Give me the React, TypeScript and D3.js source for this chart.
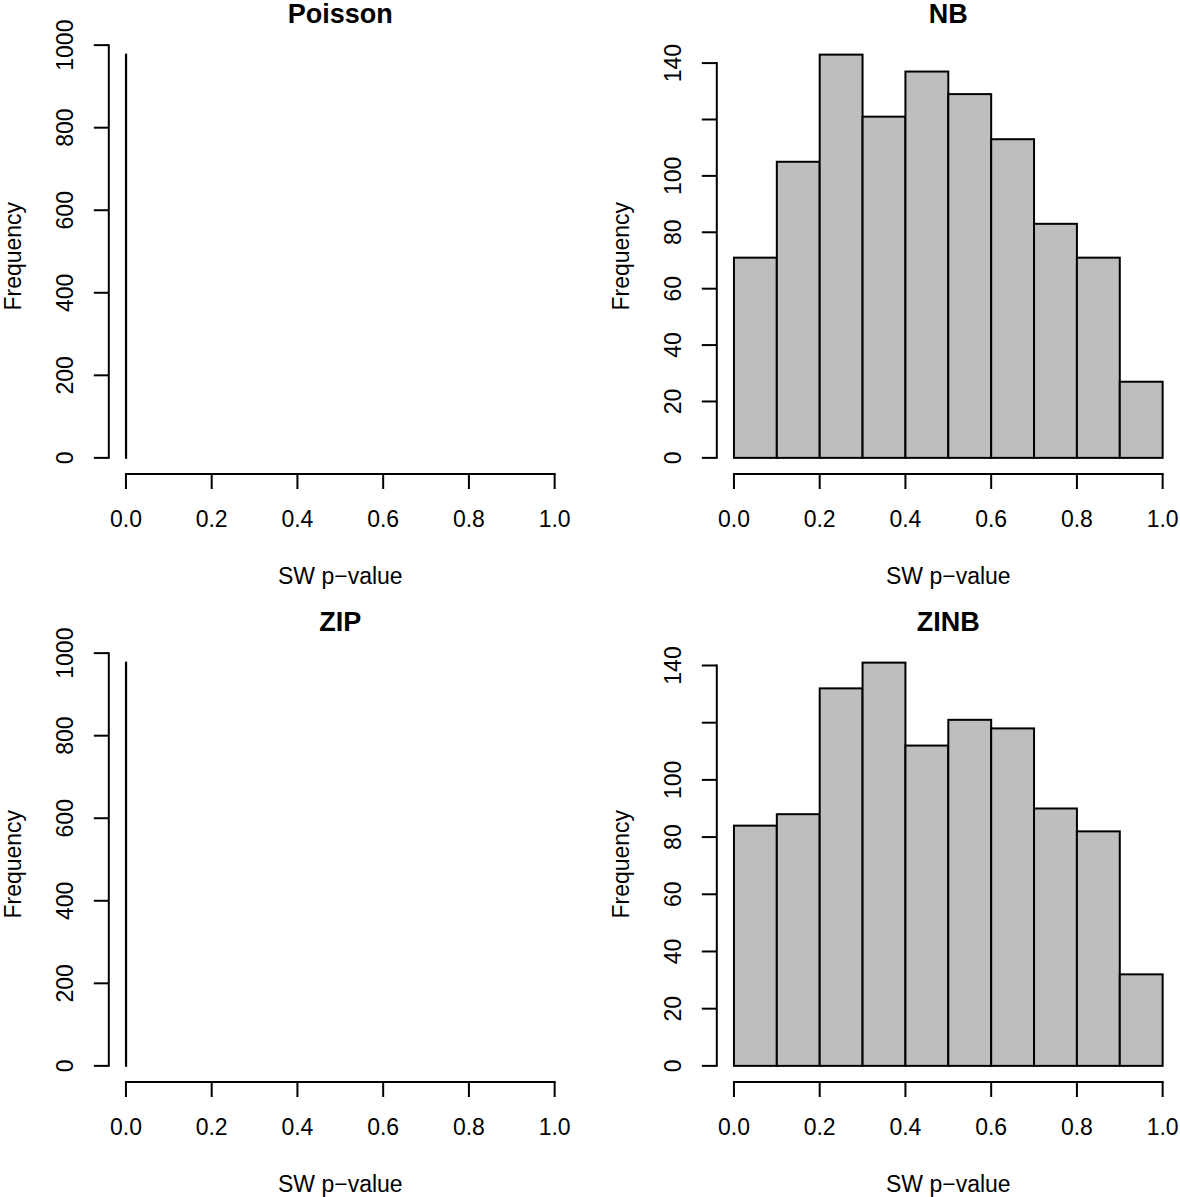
import React from "react";
import * as d3 from "d3";

// histogram data (bin edges + counts)
const PANEL_TITLES = ["Poisson", "NB", "ZIP", "ZINB"];

const POISSON_BREAKS = [0, 0.0005];
const POISSON_COUNTS = [977];

const NB_BREAKS = [0, 0.1, 0.2, 0.3, 0.4, 0.5, 0.6, 0.7, 0.8, 0.9, 1.0];
const NB_COUNTS = [71, 105, 143, 121, 137, 129, 113, 83, 71, 27];

const ZIP_BREAKS = [0, 0.0005];
const ZIP_COUNTS = [977];

const ZINB_BREAKS = [0, 0.1, 0.2, 0.3, 0.4, 0.5, 0.6, 0.7, 0.8, 0.9, 1.0];
const ZINB_COUNTS = [84, 88, 132, 141, 112, 121, 118, 90, 82, 32];

const X_TICKS = [0, 0.2, 0.4, 0.6, 0.8, 1.0];
const Y_TICKS_BIG = [0, 200, 400, 600, 800, 1000];
const Y_TICKS_SMALL = [0, 20, 40, 60, 80, 100, 120, 140];
// R drops the "120" label because it would overlap its neighbours
const Y_LABELS_SMALL = ["0", "20", "40", "60", "80", "100", "", "140"];

const X_LABEL = "SW p\u2212value";
const Y_LABEL = "Frequency";

const W = 1180;
const H = 1197;
const PANEL_STEP = 608;
const PLOT = { left: 108.8, width: 463, top: 38.5, height: 435.5 };
const FONT = "'Liberation Sans', Arial, Helvetica, sans-serif";
const FS = 23;

interface PanelProps {
  title: string;
  breaks: number[];
  counts: number[];
  yTicks: number[];
  yLabels: string[];
  col: number;
  row: number;
}

const Panel: React.FC<PanelProps> = ({ title, breaks, counts, yTicks, yLabels, col, row }) => {
  const x0 = col * PANEL_STEP + PLOT.left;
  const y0 = row * PANEL_STEP + PLOT.top;
  const ymax = d3.max(counts) || 1;

  // R extends the data range by 4% on each side
  const xScale = d3.scaleLinear().domain([-0.04, 1.04]).range([x0, x0 + PLOT.width]);
  const yScale = d3
    .scaleLinear()
    .domain([-0.04 * ymax, 1.04 * ymax])
    .range([y0 + PLOT.height, y0]);

  const bottom = y0 + PLOT.height;
  const axisX = x0;
  const cx = x0 + PLOT.width / 2;
  const bins = counts.map((c, i) => ({ x1: breaks[i], x2: breaks[i + 1], c }));

  return (
    <g>
      <text
        x={cx}
        y={y0 - 16}
        textAnchor="middle"
        fontFamily={FONT}
        fontWeight="bold"
        fontSize={27}
      >
        {title}
      </text>

      {bins.map((b, i) => (
        <rect
          key={i}
          x={xScale(b.x1)}
          y={yScale(b.c)}
          width={xScale(b.x2) - xScale(b.x1)}
          height={yScale(0) - yScale(b.c)}
          fill="#BEBEBE"
          stroke="#000"
          strokeWidth={2}
        />
      ))}

      {/* x axis */}
      <line
        x1={xScale(X_TICKS[0])}
        x2={xScale(X_TICKS[X_TICKS.length - 1])}
        y1={bottom}
        y2={bottom}
        stroke="#000"
        strokeWidth={2}
        strokeLinecap="square"
      />
      {X_TICKS.map((t) => (
        <g key={t}>
          <line x1={xScale(t)} x2={xScale(t)} y1={bottom} y2={bottom + 15} stroke="#000" strokeWidth={2} />
          <text x={xScale(t)} y={bottom + 53} textAnchor="middle" fontFamily={FONT} fontSize={FS}>
            {d3.format(".1f")(t)}
          </text>
        </g>
      ))}
      <text x={cx} y={bottom + 110} textAnchor="middle" fontFamily={FONT} fontSize={FS}>
        {X_LABEL}
      </text>

      {/* y axis */}
      <line
        x1={axisX}
        x2={axisX}
        y1={yScale(yTicks[0])}
        y2={yScale(yTicks[yTicks.length - 1])}
        stroke="#000"
        strokeWidth={2}
        strokeLinecap="square"
      />
      {yTicks.map((t, i) => (
        <g key={t}>
          <line x1={axisX - 15} x2={axisX} y1={yScale(t)} y2={yScale(t)} stroke="#000" strokeWidth={2} />
          <text
            transform={`translate(${axisX - 36},${yScale(t)}) rotate(-90)`}
            textAnchor="middle"
            fontFamily={FONT}
            fontSize={FS}
          >
            {yLabels[i]}
          </text>
        </g>
      ))}
      <text
        transform={`translate(${axisX - 88},${y0 + PLOT.height / 2}) rotate(-90)`}
        textAnchor="middle"
        fontFamily={FONT}
        fontSize={FS}
      >
        {Y_LABEL}
      </text>
    </g>
  );
};

const App: React.FC = () => {
  const bigLabels = Y_TICKS_BIG.map((t) => String(t));
  return (
    <svg
      width={W}
      height={H}
      style={{ position: "absolute", left: 0, top: 0, background: "#fff" }}
    >
      <rect width={W} height={H} fill="#fff" />
      <Panel title={PANEL_TITLES[0]} breaks={POISSON_BREAKS} counts={POISSON_COUNTS} yTicks={Y_TICKS_BIG} yLabels={bigLabels} col={0} row={0} />
      <Panel title={PANEL_TITLES[1]} breaks={NB_BREAKS} counts={NB_COUNTS} yTicks={Y_TICKS_SMALL} yLabels={Y_LABELS_SMALL} col={1} row={0} />
      <Panel title={PANEL_TITLES[2]} breaks={ZIP_BREAKS} counts={ZIP_COUNTS} yTicks={Y_TICKS_BIG} yLabels={bigLabels} col={0} row={1} />
      <Panel title={PANEL_TITLES[3]} breaks={ZINB_BREAKS} counts={ZINB_COUNTS} yTicks={Y_TICKS_SMALL} yLabels={Y_LABELS_SMALL} col={1} row={1} />
    </svg>
  );
};

export default App;
